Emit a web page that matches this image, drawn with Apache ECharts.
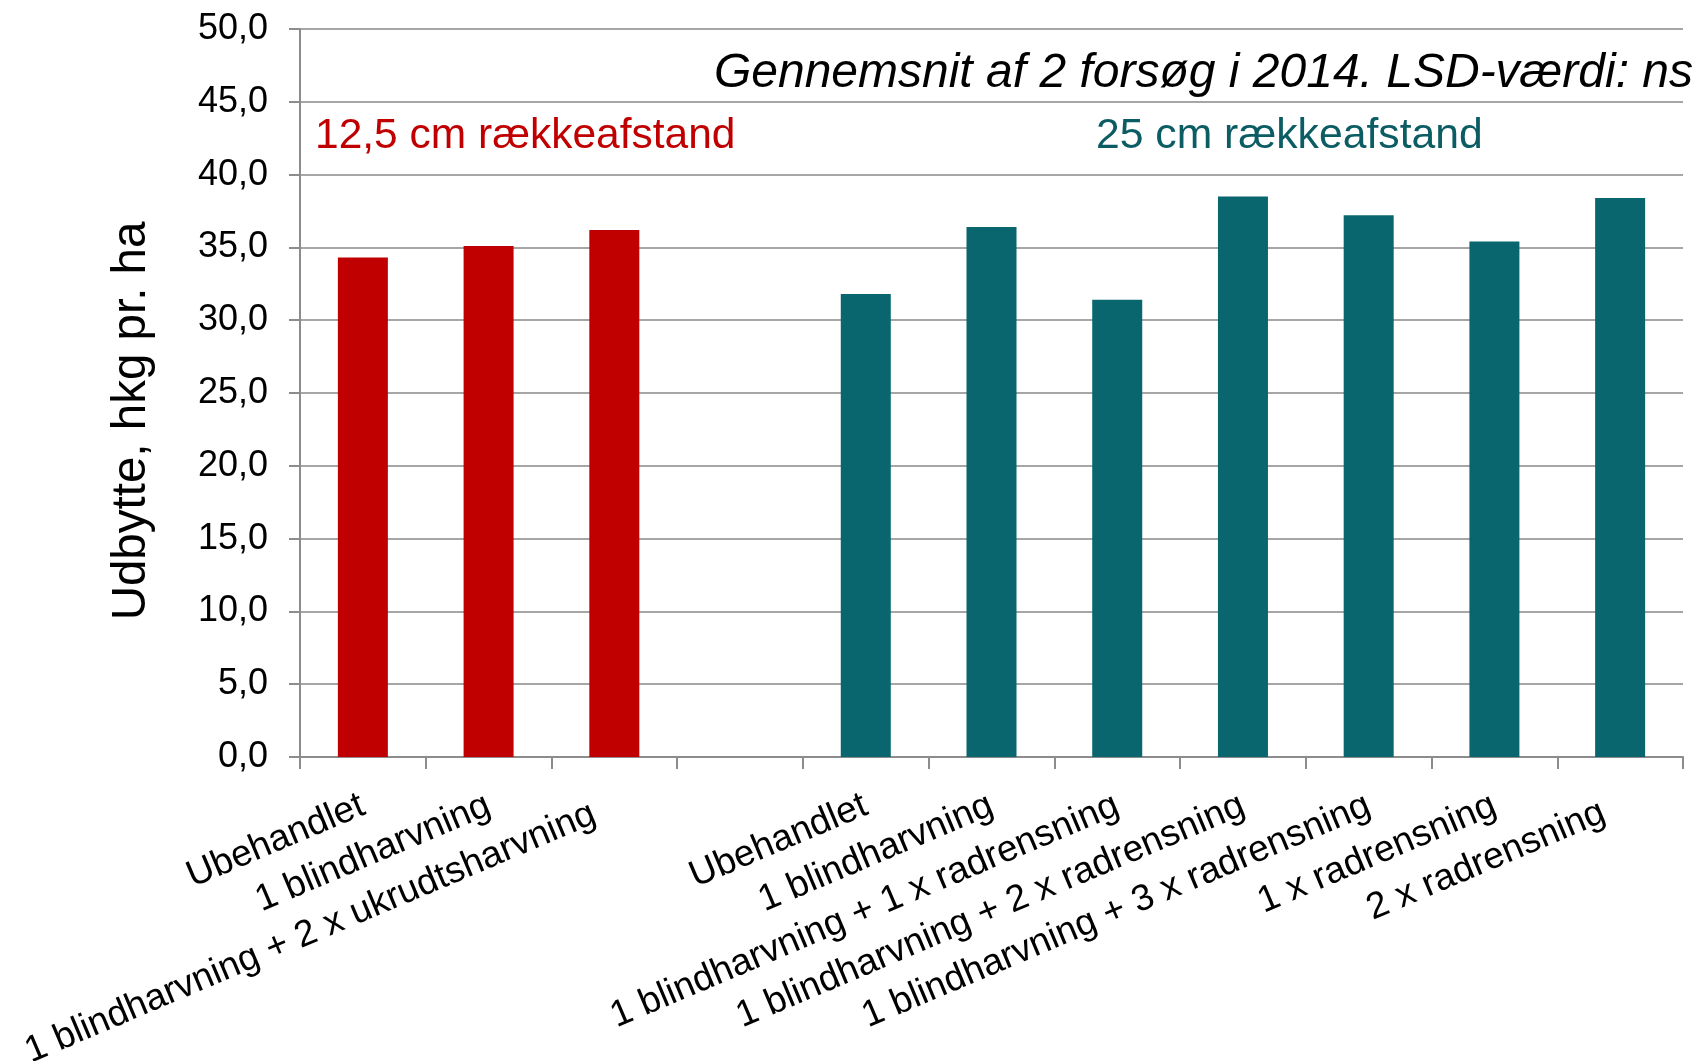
<!DOCTYPE html>
<html lang="da">
<head>
    <meta charset="UTF-8">
    <title>Udbytte</title>
    <style>
        html, body { margin: 0; padding: 0; background: #fff; }
        #main { width: 1702px; height: 1061px; }
    </style>
    <script src="https://cdn.jsdelivr.net/npm/echarts@6/dist/echarts.min.js"></script>
</head>
<body>
    <div id="main"></div>
    <script type="text/javascript">
        // data
        var categories = [
            'Ubehandlet',
            '1 blindharvning',
            '1 blindharvning + 2 x ukrudtsharvning',
            '',
            'Ubehandlet',
            '1 blindharvning',
            '1 blindharvning + 1 x radrensning',
            '1 blindharvning + 2 x radrensning',
            '1 blindharvning + 3 x radrensning',
            '1 x radrensning',
            '2 x radrensning'
        ];
        var values125 = [34.3, 35.1, 36.2, '-', '-', '-', '-', '-', '-', '-', '-'];
        var values25 = ['-', '-', '-', '-', 31.8, 36.4, 31.4, 38.5, 37.2, 35.4, 38.4];
        var yTicks = [0, 5, 10, 15, 20, 25, 30, 35, 40, 45, 50];

        var RED = '#C00000';
        var TEAL = '#09666F';
        var FONT = '"Liberation Sans", Arial, sans-serif';

        // two labels sit a bit further along their line in the original
        var labelShift = { 2: 22, 10: 18 };
        var xData = categories.map(function (c, i) {
            if (labelShift[i]) {
                return { value: c, textStyle: { padding: [0, labelShift[i], 0, 0] } };
            }
            return c;
        });

        var chart = echarts.init(document.getElementById('main'));

        var option = {
            animation: false,
            textStyle: { fontFamily: FONT },
            title: [{
                text: 'Gennemsnit af 2 forsøg i 2014. LSD-værdi: ns',
                right: 9,
                top: 50,
                padding: 0,
                textStyle: { fontFamily: FONT, fontSize: 48, fontStyle: 'italic', fontWeight: 'normal', color: '#000' }
            }, {
                text: '12,5 cm rækkeafstand',
                left: 315,
                top: 115,
                padding: 0,
                textStyle: { fontFamily: FONT, fontSize: 42.5, fontWeight: 'normal', color: RED }
            }, {
                text: '25 cm rækkeafstand',
                left: 1096,
                top: 115,
                padding: 0,
                textStyle: { fontFamily: FONT, fontSize: 42.7, fontWeight: 'normal', color: '#0b5c63' }
            }],
            graphic: [{
                type: 'text',
                x: 132,
                y: 421,
                rotation: Math.PI / 2,
                style: {
                    text: 'Udbytte, hkg pr. ha',
                    font: '47.5px "Liberation Sans", Arial, sans-serif',
                    fill: '#000',
                    align: 'center',
                    verticalAlign: 'middle'
                }
            }],
            grid: {
                left: 300,
                right: 19,
                top: 29,
                bottom: 304,
                containLabel: false,
                outerBoundsMode: 'none'
            },
            xAxis: {
                type: 'category',
                data: xData,
                boundaryGap: true,
                axisLine: { lineStyle: { color: '#8c8c8c', width: 2 } },
                axisTick: { show: true, length: 12, alignWithLabel: false, interval: 0, lineStyle: { color: '#8c8c8c', width: 2 } },
                axisLabel: {
                    interval: 0,
                    rotate: 23,
                    margin: 47,
                    hideOverlap: false,
                    fontFamily: FONT,
                    fontSize: 37,
                    color: '#000'
                },
                splitLine: { show: false }
            },
            yAxis: {
                type: 'value',
                min: yTicks[0],
                max: yTicks[yTicks.length - 1],
                interval: 5,
                axisLine: { show: true, lineStyle: { color: '#8c8c8c', width: 2 } },
                axisTick: { show: true, length: 11, inside: false, lineStyle: { color: '#8c8c8c', width: 2 } },
                axisLabel: {
                    margin: 32,
                    fontFamily: FONT,
                    fontSize: 36,
                    color: '#000',
                    formatter: function (v) { return v.toFixed(1).replace('.', ','); }
                },
                splitLine: { show: true, lineStyle: { color: '#a6a6a6', width: 2 } }
            },
            series: [{
                name: '12,5 cm',
                type: 'bar',
                stack: 'all',
                barWidth: 50,
                itemStyle: { color: RED },
                data: values125
            }, {
                name: '25 cm',
                type: 'bar',
                stack: 'all',
                barWidth: 50,
                itemStyle: { color: TEAL },
                data: values25
            }]
        };

        chart.setOption(option);
    </script>
</body>
</html>
